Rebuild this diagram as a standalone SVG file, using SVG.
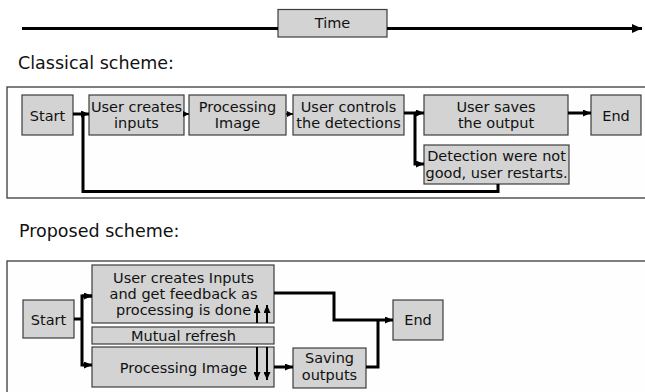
<svg xmlns="http://www.w3.org/2000/svg" width="645" height="392" viewBox="0 0 645 392">
<defs>
<style>
.bg{fill:#ffffff}
.frame{fill:#fefefe;stroke:#3a3a3a;stroke-width:1.3}
.box{fill:#d3d3d3;stroke:#3c3c3c;stroke-width:1.2}
.t{font-family:"DejaVu Sans",sans-serif;font-size:14.5px;fill:#111;text-anchor:middle}
.h{font-family:"DejaVu Sans",sans-serif;font-size:17.5px;fill:#111}
.c{fill:none;stroke:#000;stroke-width:3}
.cn{fill:none;stroke:#000;stroke-width:1.5}
.c2{fill:none;stroke:#000;stroke-width:2}
</style>
<marker id="ah" markerUnits="userSpaceOnUse" markerWidth="10" markerHeight="9" refX="10" refY="4.5" orient="auto"><path d="M0,0 L10,4.5 L0,9 z" fill="#000"/></marker>
<marker id="as" markerUnits="userSpaceOnUse" markerWidth="6" markerHeight="6" refX="6" refY="3" orient="auto"><path d="M0,0 L6,3 L0,6 z" fill="#000"/></marker>
<marker id="am" markerUnits="userSpaceOnUse" markerWidth="8" markerHeight="7" refX="8" refY="3.5" orient="auto"><path d="M0,0 L8,3.5 L0,7 z" fill="#000"/></marker>
</defs>
<rect class="bg" x="0" y="0" width="645" height="392"/>

<text class="h" x="18" y="68.5">Classical scheme:</text>
<rect class="frame" x="7" y="87" width="650" height="111"/>

<text class="h" x="19" y="236.5">Proposed scheme:</text>
<rect class="frame" x="7" y="261" width="650" height="145"/>

<g id="time"><rect class="box" x="278" y="9.5" width="109" height="27.5"/><text class="t" x="332.5" y="28">Time</text></g>

<g id="c_start"><rect class="box" x="22" y="95" width="51" height="40"/><text class="t" x="47.5" y="120.5">Start</text></g>
<g id="c_inputs"><rect class="box" x="89" y="95" width="95" height="40"/><text class="t" x="136.5" y="111.5">User creates</text><text class="t" x="136.5" y="128">inputs</text></g>
<g id="c_processing"><rect class="box" x="189" y="95" width="97" height="40"/><text class="t" x="237.5" y="111.5">Processing</text><text class="t" x="237.5" y="128">Image</text></g>
<g id="c_controls"><rect class="box" x="293" y="95" width="111" height="40"/><text class="t" x="348.5" y="111.5">User controls</text><text class="t" x="348.5" y="128">the detections</text></g>
<g id="c_saves"><rect class="box" x="424" y="95" width="144" height="40"/><text class="t" x="496" y="111.5">User saves</text><text class="t" x="496" y="128">the output</text></g>
<g id="c_end"><rect class="box" x="591" y="95" width="50" height="40"/><text class="t" x="616" y="120.5">End</text></g>
<g id="c_restart"><rect class="box" x="424" y="145" width="145" height="39"/><text class="t" x="496.5" y="161">Detection were not</text><text class="t" x="496.5" y="177.5">good, user restarts.</text></g>

<g id="p_start"><rect class="box" x="23" y="300" width="51" height="38"/><text class="t" x="48.5" y="324.5">Start</text></g>
<g id="p_inputs"><rect class="box" x="92" y="265" width="182" height="58"/><text class="t" x="183.5" y="283">User creates Inputs</text><text class="t" x="183.5" y="299">and get feedback as</text><text class="t" x="183.5" y="315">processing is done</text></g>
<g id="p_mutual"><rect class="box" x="92" y="327" width="182" height="17"/><text class="t" x="183.5" y="340.5">Mutual refresh</text></g>
<g id="p_processing"><rect class="box" x="92" y="347" width="182" height="40"/><text class="t" x="183.5" y="373">Processing Image</text></g>
<g id="p_saving"><rect class="box" x="293" y="348" width="73" height="40"/><text class="t" x="329.5" y="363">Saving</text><text class="t" x="329.5" y="380">outputs</text></g>
<g id="p_end"><rect class="box" x="393" y="300" width="50" height="40"/><text class="t" x="418" y="325">End</text></g>

<g id="connectors">
<!-- time axis (split around the Time box) -->
<line class="c" x1="22" y1="28.5" x2="278" y2="28.5"/>
<line class="c" x1="387" y1="28.5" x2="642" y2="28.5" marker-end="url(#ah)"/>
<!-- classical -->
<polyline class="c" points="73,114 83,114"/>
<polyline class="c" points="498,184 498,191.5 83,191.5 83,114 89,114" marker-end="url(#am)"/>
<line class="cn" x1="184" y1="114" x2="189" y2="114" marker-end="url(#as)"/>
<line class="cn" x1="286" y1="114" x2="293" y2="114" marker-end="url(#as)"/>
<polyline class="c" points="404,113 415,113 415,164 424,164" marker-end="url(#am)"/>
<line class="c" x1="415" y1="113" x2="424" y2="113" marker-end="url(#am)"/>
<line class="c" x1="568" y1="113" x2="591" y2="113" marker-end="url(#am)"/>
<!-- proposed -->
<polyline class="c" points="74,319 82,319"/>
<polyline class="c" points="92,296 82,296 82,365 92,365" marker-end="url(#am)"/>
<line class="c" x1="82" y1="296" x2="92" y2="296" marker-end="url(#am)"/>
<line class="c2" x1="257" y1="323" x2="257" y2="305" marker-end="url(#am)"/>
<line class="c2" x1="267" y1="323" x2="267" y2="305" marker-end="url(#am)"/>
<line class="c2" x1="257" y1="347" x2="257" y2="380" marker-end="url(#am)"/>
<line class="c2" x1="267" y1="347" x2="267" y2="380" marker-end="url(#am)"/>
<polyline class="c" points="274,293 334,293 334,320 393,320" marker-end="url(#am)"/>
<line class="c" x1="274" y1="367" x2="293" y2="367" marker-end="url(#am)"/>
<polyline class="c" points="366,367 378,367 378,320"/>
</g>
</svg>
